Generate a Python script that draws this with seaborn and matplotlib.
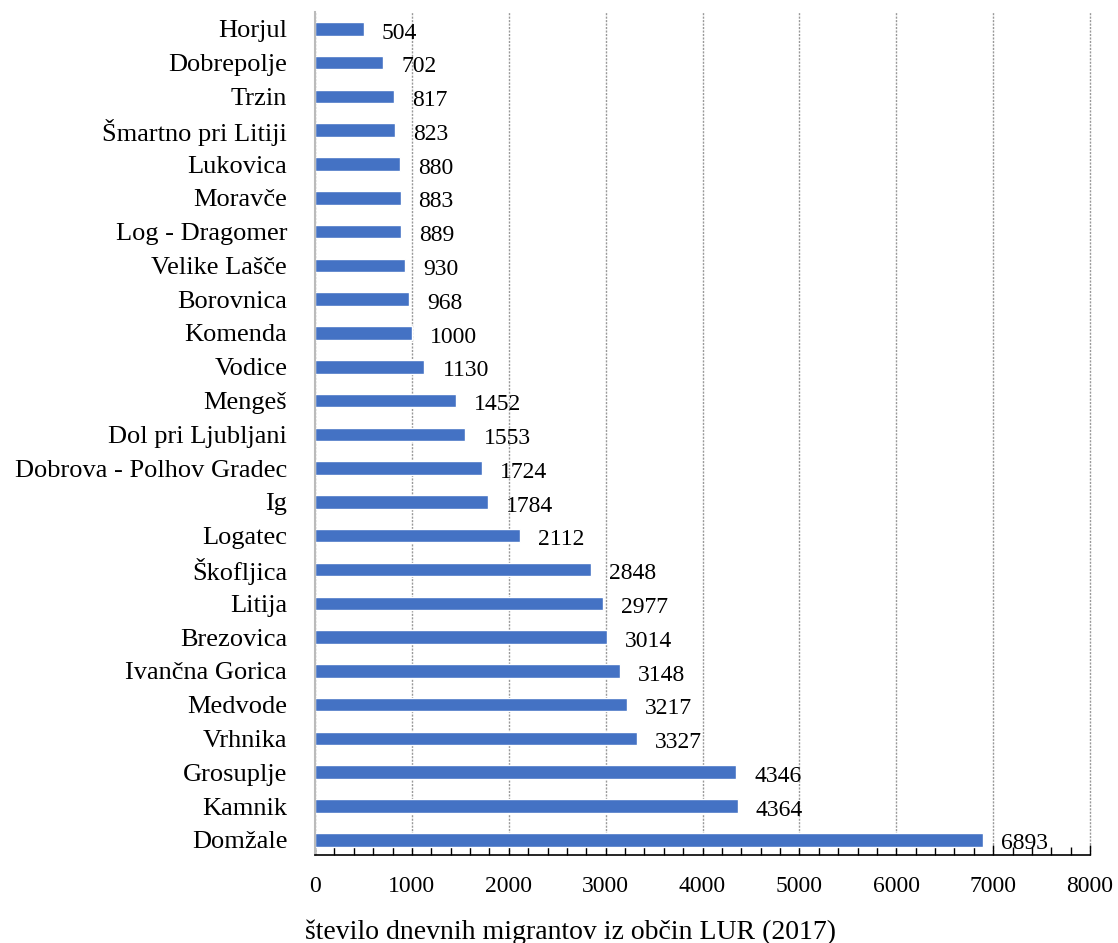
import matplotlib
matplotlib.use("Agg")
import matplotlib.pyplot as plt
import seaborn as sns
import pandas as pd
from matplotlib.ticker import MultipleLocator

obcine = ["Horjul", "Dobrepolje", "Trzin", "Šmartno pri Litiji", "Lukovica", "Moravče",
          "Log - Dragomer", "Velike Lašče", "Borovnica", "Komenda", "Vodice", "Mengeš",
          "Dol pri Ljubljani", "Dobrova - Polhov Gradec", "Ig", "Logatec", "Škofljica",
          "Litija", "Brezovica", "Ivančna Gorica", "Medvode", "Vrhnika", "Grosuplje",
          "Kamnik", "Domžale"]
migranti = [504, 702, 817, 823, 880, 883, 889, 930, 968, 1000, 1130, 1452, 1553, 1724,
            1784, 2112, 2848, 2977, 3014, 3148, 3217, 3327, 4346, 4364, 6893]
xticks = [0, 1000, 2000, 3000, 4000, 5000, 6000, 7000, 8000]
xlabel = "število dnevnih migrantov iz občin LUR (2017)"

sns.set_theme(style="white")
plt.rcParams['font.family'] = ['Liberation Serif', 'DejaVu Serif']
plt.rcParams['xtick.labelsize'] = 17
plt.rcParams['ytick.labelsize'] = 19

df = pd.DataFrame({"obcina": obcine, "n": migranti})

fig = plt.figure(figsize=(11.18, 9.43), dpi=100)
ax = fig.add_axes([315/1118, 1 - 855/943, (1090-315)/1118, (855-12)/943])

sns.barplot(data=df, x="n", y="obcina", order=obcine, color="#4472C4",
            saturation=1, width=0.4, ax=ax)

for i, v in enumerate(migranti):
    ax.annotate(str(v), xy=(v, i), xytext=(13, -3), textcoords="offset points",
                va="center", ha="left", fontsize=17, color="black")

ax.set_xlim(0, 8000)
ax.set_ylim(24.45, -0.5)
ax.xaxis.set_minor_locator(MultipleLocator(200))
ax.grid(axis="x", which="major", color="#999999", linestyle=(0, (1.5, 1)), linewidth=1)
ax.grid(axis="y", visible=False)
ax.tick_params(axis="x", which="major", direction="in", length=7, width=1, pad=15,
               bottom=True, color="black", labelsize=17, labelcolor="black")
ax.tick_params(axis="x", which="minor", direction="in", length=6, width=1,
               bottom=True, color="black")
ax.tick_params(axis="y", length=0, pad=20, labelsize=19, labelcolor="black")
ax.set_xticks(xticks, [str(t) for t in xticks], fontsize=17, color="black")
for gl in ax.get_xgridlines():
    gl.set_clip_on(False)
ax.set_axisbelow(True)
for s in ["top", "right"]:
    ax.spines[s].set_visible(False)
ax.spines["bottom"].set_color("black")
ax.spines["bottom"].set_linewidth(1.2)
ax.spines["left"].set_color("#bbbbbb")
ax.spines["left"].set_linewidth(1.5)
ax.set_xlabel("")
ax.set_ylabel("")

fig.text(305/1118, 1 - 932/943, xlabel, fontsize=20, ha="left", va="center", color="black")

fig.savefig("out.png", dpi=100)
